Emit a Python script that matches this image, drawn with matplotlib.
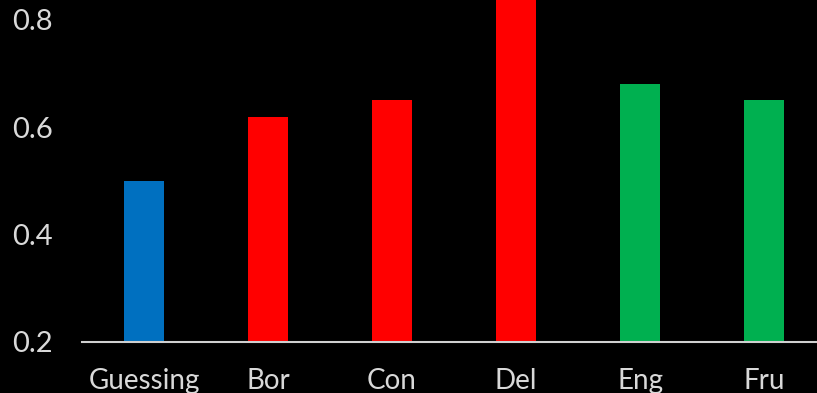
import numpy as np
import matplotlib
matplotlib.use("Agg")
import matplotlib.pyplot as plt

categories = ["Guessing", "Bor", "Con", "Del", "Eng", "Fru"]
scores = [0.50, 0.62, 0.65, 0.87, 0.68, 0.65]
colors = ["#0070C0", "#FF0000", "#FF0000", "#FF0000", "#00B050", "#00B050"]
yticks = [0.2, 0.4, 0.6, 0.8]

plt.rcParams['font.family'] = ['Lato', 'DejaVu Sans']
text_col = "#d9d9d9"

fig = plt.figure(figsize=(8.17, 3.93), dpi=100, facecolor="black")
ax = fig.add_axes([82 / 817, 51 / 393, 744 / 817, 1 - 51 / 393])
ax.set_facecolor("black")

x = np.arange(len(categories))
ax.bar(x, [s - 0.2 for s in scores], bottom=0.2, width=0.32, color=colors)

ax.set_xlim(-0.5, len(categories) - 0.5)
ax.set_ylim(0.2, 0.837)
ax.set_xticks(x)
ax.set_xticklabels(categories)
ax.set_yticks(yticks)
ax.set_yticklabels([f"{v:.1f}" for v in yticks])
ax.tick_params(axis="both", length=0, labelsize=20, colors=text_col)
ax.tick_params(axis="y", pad=21, labelsize=21)
ax.tick_params(axis="x", pad=18.5)

for side in ["top", "right", "left"]:
    ax.spines[side].set_visible(False)
ax.spines["bottom"].set_color("#d0d0d0")
ax.spines["bottom"].set_linewidth(1.5)

fig.savefig("out.png", dpi=100, facecolor="black")
